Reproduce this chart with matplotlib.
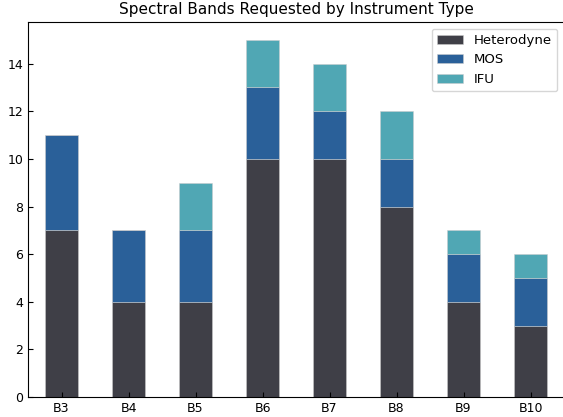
import matplotlib
matplotlib.use("Agg")
import matplotlib.pyplot as plt
import numpy as np

categories = ["B3", "B4", "B5", "B6", "B7", "B8", "B9", "B10"]
heterodyne = [7, 4, 4, 10, 10, 8, 4, 3]
mos = [4, 3, 3, 3, 2, 2, 2, 2]
ifu = [0, 0, 2, 2, 2, 2, 1, 1]

colors = {"Heterodyne": "#3f3f47", "MOS": "#2a6099", "IFU": "#50a7b4"}

fig = plt.figure(figsize=(5.63, 4.17), dpi=100)
ax = fig.add_axes([28/563, 20/417, 536/563, 375/417])

x = np.arange(len(categories))
w = 0.5
h = np.array(heterodyne)
m = np.array(mos)
i = np.array(ifu)
ekw = dict(edgecolor=(0.8, 0.8, 0.8, 0.6), linewidth=0.6)
ax.bar(x, h, w, color=colors["Heterodyne"], label="Heterodyne", **ekw)
ax.bar(x, m, w, bottom=h, color=colors["MOS"], label="MOS", **ekw)
ax.bar(x, i, w, bottom=h + m, color=colors["IFU"], label="IFU", **ekw)

ax.set_xlim(-0.5, len(categories) - 0.5)
ax.set_ylim(0, 15.75)
ax.set_xticks(x)
ax.set_xticklabels(categories, fontsize=9)
ax.set_yticks([0, 2, 4, 6, 8, 10, 12, 14])
ax.tick_params(axis="both", direction="in", labelsize=9, length=3.5)
ax.spines["right"].set_visible(False)
ax.set_title("Spectral Bands Requested by Instrument Type", fontsize=11)
ax.legend(loc="upper right", fontsize=9.5)

fig.savefig("out.png", dpi=100)
